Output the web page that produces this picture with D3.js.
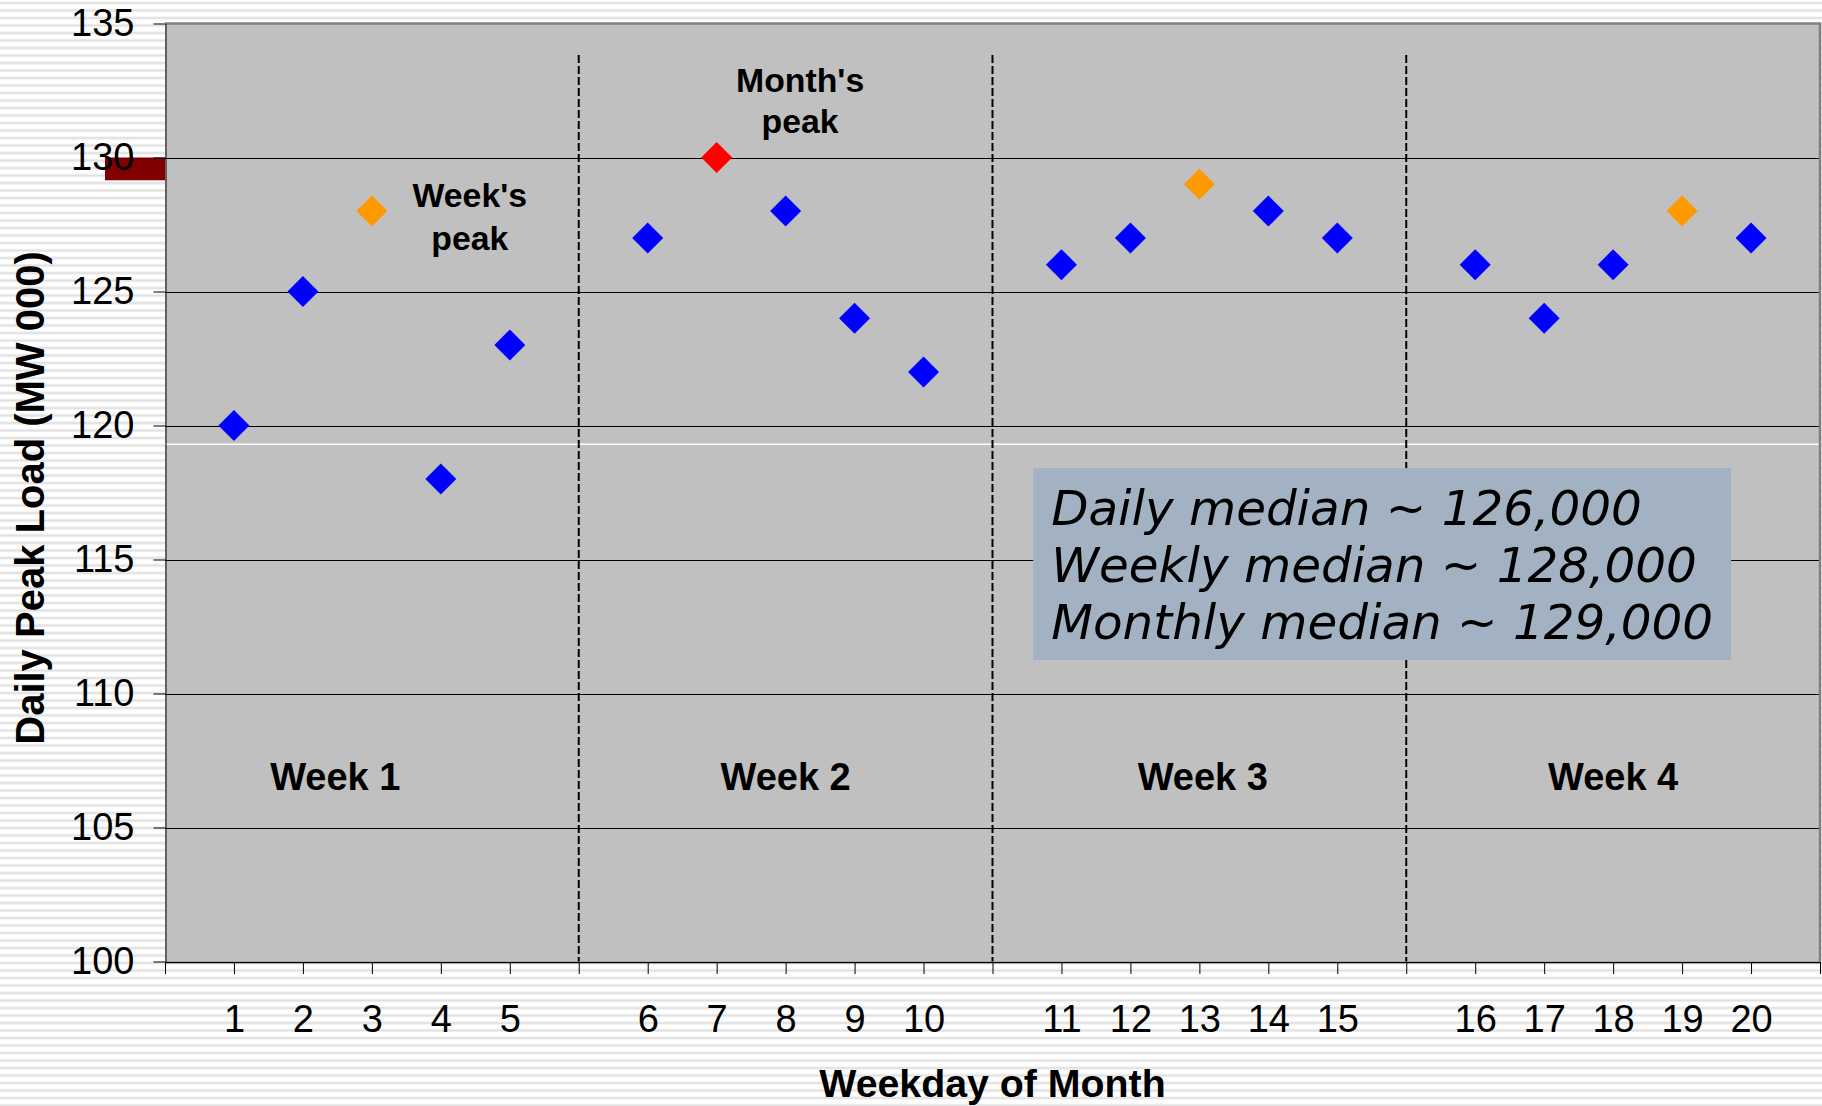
<!DOCTYPE html>
<html>
<head>
<meta charset="utf-8">
<script src="https://cdn.jsdelivr.net/npm/d3@7"></script>
<style>
  html, body { margin: 0; padding: 0; background: #fff; }
  svg { display: block; }
</style>
</head>
<body>
<div id="chart"></div>
<script>
// Category slots along the x axis; empty strings separate the weeks
const slotLabels = ["", "1", "2", "3", "4", "5", "", "6", "7", "8", "9", "10", "",
                    "11", "12", "13", "14", "15", "", "16", "17", "18", "19", "20", ""];
// Weekday of month and daily peak load (MW 000)
const days  = [1, 2, 3, 4, 5, 6, 7, 8, 9, 10, 11, 12, 13, 14, 15, 16, 17, 18, 19, 20];
const weeks = [1, 1, 1, 1, 1, 2, 2, 2, 2, 2, 3, 3, 3, 3, 3, 4, 4, 4, 4, 4];
const loads = [120, 125, 128, 118, 123, 127, 130, 128, 124, 122,
               126, 127, 129, 128, 127, 126, 124, 126, 128, 127];
const yTicks = [100, 105, 110, 115, 120, 125, 130, 135];
const weekNames = ["Week 1", "Week 2", "Week 3", "Week 4"];
const weekNameSlots = [2.47, 9, 15.05, 21];
const summaryLines = ["Daily median ~ 126,000", "Weekly median ~ 128,000", "Monthly median ~ 129,000"];
const medianBand = [129.15, 130];
const seamValue = 119.3;

(function () {
const W = 1822, H = 1106;
const plotL = 165, plotR = 1820, plotT = 23.5, plotB = 961.5;

const svg = d3.select("#chart").append("svg")
  .attr("width", W).attr("height", H)
  .style("font-family", "'Liberation Sans', Arial, sans-serif");

// striped page background
const defs = svg.append("defs");
const pat = defs.append("pattern")
  .attr("id", "stripes").attr("patternUnits", "userSpaceOnUse")
  .attr("width", 8).attr("height", 7.5);
pat.append("rect").attr("width", 8).attr("height", 7.5).attr("fill", "#ffffff");
pat.append("rect").attr("y", 2).attr("width", 8).attr("height", 2.2).attr("fill", "#e0e0e0");
pat.append("rect").attr("y", 1.5).attr("width", 8).attr("height", 0.5).attr("fill", "#eeeeee");
pat.append("rect").attr("y", 4.2).attr("width", 8).attr("height", 0.5).attr("fill", "#eeeeee");
svg.append("rect").attr("width", W).attr("height", H).attr("fill", "url(#stripes)");

const x = d3.scaleLinear().domain([0, slotLabels.length - 1]).range([plotL, plotR]);
const y = d3.scaleLinear().domain([100, 135]).range([plotB, plotT]);

// plot area
svg.append("rect")
  .attr("x", plotL).attr("y", plotT)
  .attr("width", plotR - plotL).attr("height", plotB - plotT)
  .attr("fill", "#c0c0c0");

// horizontal gridlines
svg.append("g").selectAll("line")
  .data(yTicks.filter(v => v > 100 && v < 135))
  .join("line")
  .attr("x1", plotL).attr("x2", plotR)
  .attr("y1", d => Math.round(y(d)) + 0.5).attr("y2", d => Math.round(y(d)) + 0.5)
  .attr("stroke", "#000").attr("stroke-width", 1);

// light seam line across the plot
svg.append("line")
  .attr("x1", plotL).attr("x2", plotR)
  .attr("y1", y(seamValue)).attr("y2", y(seamValue))
  .attr("stroke", "#ffffff").attr("stroke-width", 1.5);

// top and right frame
svg.append("path")
  .attr("d", `M${plotL},${plotT} H${plotR} V${plotB}`)
  .attr("fill", "none").attr("stroke", "#808080").attr("stroke-width", 2.5);

// week separators
const sepSlots = slotLabels.map((l, i) => (l === "" && i > 0 && i < slotLabels.length - 1) ? i : null)
  .filter(i => i !== null);
svg.append("g").selectAll("line")
  .data(sepSlots)
  .join("line")
  .attr("x1", d => x(d)).attr("x2", d => x(d))
  .attr("y1", 55).attr("y2", plotB)
  .attr("stroke", "#000").attr("stroke-width", 2)
  .attr("stroke-dasharray", "8,3");

// summary box
const boxSlots = [12.59, 22.71], boxVals = [118.41, 111.25];
svg.append("rect")
  .attr("x", x(boxSlots[0])).attr("y", y(boxVals[0]))
  .attr("width", x(boxSlots[1]) - x(boxSlots[0]))
  .attr("height", y(boxVals[1]) - y(boxVals[0]))
  .attr("fill", "#a3b2c2");
svg.append("g").selectAll("text")
  .data(summaryLines)
  .join("text")
  .attr("x", x(boxSlots[0]) + 18)
  .attr("y", (d, i) => y(boxVals[0]) + 57 + i * 57)
  .attr("font-family", "'DejaVu Sans', Verdana, sans-serif")
  .attr("font-style", "italic")
  .attr("font-size", 48.4)
  .attr("fill", "#000")
  .text(d => d);

// median marker band left of the axis
svg.append("rect")
  .attr("x", 105).attr("y", y(medianBand[1]))
  .attr("width", plotL - 105).attr("height", y(medianBand[0]) - y(medianBand[1]))
  .attr("fill", "#800000");

// axes
const yAxis = d3.axisLeft(y).tickValues(yTicks).tickSize(12).tickPadding(19).tickSizeOuter(0);
const gy = svg.append("g").attr("transform", `translate(${plotL + 0.5},0)`).call(yAxis);
gy.selectAll("text").attr("font-size", 38).attr("font-family", "'Liberation Sans', Arial, sans-serif").attr("fill", "#000");
gy.select(".domain").attr("stroke", "#000");
gy.selectAll(".tick line").attr("stroke", "#000");

const xAxis = d3.axisBottom(x)
  .tickValues(d3.range(slotLabels.length))
  .tickFormat(i => slotLabels[i])
  .tickSize(12).tickPadding(31).tickSizeOuter(0);
const gx = svg.append("g").attr("transform", `translate(0,${plotB + 0.5})`).call(xAxis);
gx.selectAll("text").attr("font-size", 38).attr("font-family", "'Liberation Sans', Arial, sans-serif").attr("fill", "#000");
gx.select(".domain").attr("stroke", "#000").attr("stroke-width", 1.5);
gx.selectAll(".tick line").attr("stroke", "#000");

// data points: week peaks orange, month peak red
const monthMax = d3.max(loads);
const weekMax = d3.rollup(days.map((d, i) => ({ w: weeks[i], v: loads[i] })), g => d3.max(g, e => e.v), e => e.w);
const points = days.map((d, i) => ({
  slot: slotLabels.indexOf(String(d)),
  value: loads[i],
  color: loads[i] === monthMax ? "#ff0000" : (loads[i] === weekMax.get(weeks[i]) ? "#ff9900" : "#0000ff")
}));
const diamond = d3.symbol(d3.symbolSquare, 480);
svg.append("g").selectAll("path")
  .data(points)
  .join("path")
  .attr("d", diamond)
  .attr("transform", d => `translate(${x(d.slot)},${y(d.value)}) rotate(45)`)
  .attr("fill", d => d.color);

// week names
svg.append("g").selectAll("text")
  .data(weekNames)
  .join("text")
  .attr("x", (d, i) => x(weekNameSlots[i]))
  .attr("y", y(106.4))
  .attr("text-anchor", "middle")
  .attr("font-size", 38).attr("font-weight", "bold")
  .text(d => d);

// peak annotations
const notes = [
  { lines: ["Week's", "peak"], slot: 4.42, value: 128.15, gap: 43 },
  { lines: ["Month's", "peak"], slot: 9.21, value: 132.44, gap: 41 }
];
notes.forEach(n => {
  const t = svg.append("text")
    .attr("text-anchor", "middle")
    .attr("font-size", 33.8).attr("font-weight", "bold");
  n.lines.forEach((l, i) => {
    t.append("tspan").attr("x", x(n.slot)).attr("y", y(n.value) + i * n.gap).text(l);
  });
});

// axis titles
svg.append("text")
  .attr("x", (plotL + plotR) / 2).attr("y", 1097)
  .attr("text-anchor", "middle")
  .attr("font-size", 39.3).attr("font-weight", "bold")
  .text("Weekday of Month");

svg.append("text")
  .attr("transform", `translate(44,498) rotate(-90)`)
  .attr("text-anchor", "middle")
  .attr("font-size", 40).attr("font-weight", "bold")
  .text("Daily Peak Load (MW 000)");
})();
</script>
</body>
</html>
